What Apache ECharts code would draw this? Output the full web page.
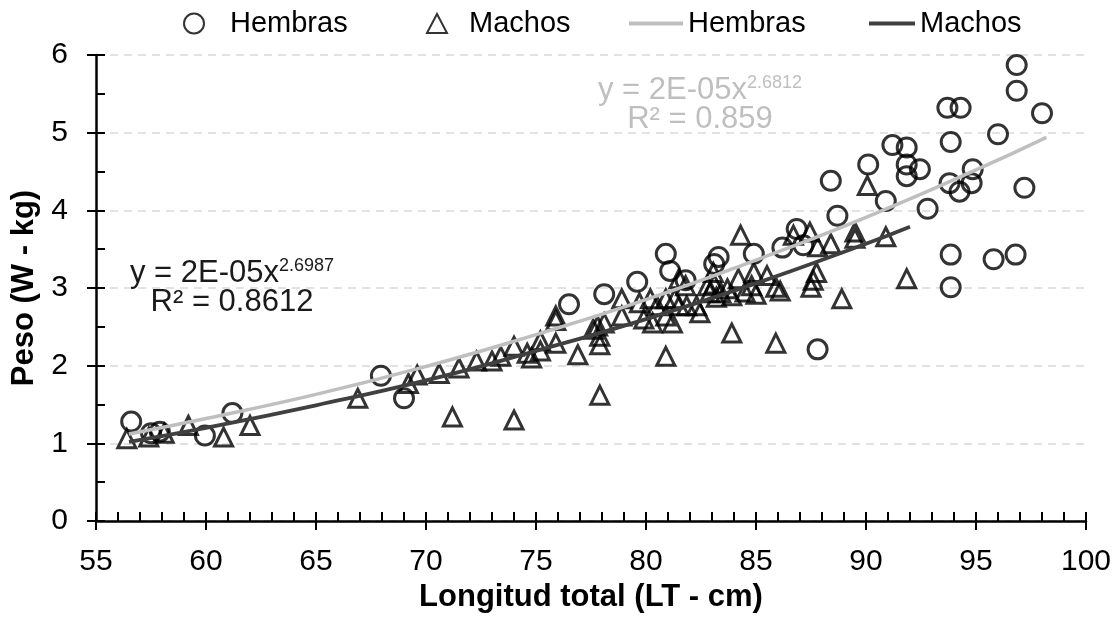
<!DOCTYPE html>
<html><head><meta charset="utf-8">
<script src="https://cdn.jsdelivr.net/npm/echarts@6/dist/echarts.min.js"></script>
<style>html,body{margin:0;padding:0;background:#fff}#c{width:1115px;height:622px}</style>
</head><body><div id="c"></div>
<script>
// Observed points: [longitud total (cm), peso (kg)]
const hembras = [
  [56.6,1.28],[57.5,1.13],[57.9,1.15],[59.95,1.10],[61.2,1.39],[67.95,1.87],[69.0,1.58],
  [76.5,2.79],[78.1,2.92],[79.6,3.08],[80.9,3.44],[81.1,3.22],[81.8,3.10],[83.1,3.31],
  [83.3,3.40],[84.9,3.44],[86.2,3.52],[86.85,3.76],[87.15,3.55],[87.8,2.21],[88.7,3.93],
  [88.4,4.38],[90.1,4.59],[90.9,4.12],[91.2,4.84],[91.85,4.81],[91.85,4.59],[92.45,4.53],
  [91.85,4.44],[92.8,4.02],[93.7,5.32],[94.3,5.32],[93.85,4.88],[93.8,4.35],[94.25,4.24],
  [94.85,4.53],[94.8,4.35],[96.0,4.98],[96.85,5.87],[96.85,5.54],[98.0,5.25],[97.2,4.29],
  [93.85,3.43],[95.8,3.37],[96.8,3.43],[93.85,3.01]
];
const machos = [
  [56.4,1.06],[57.4,1.08],[58.1,1.13],[59.2,1.23],[60.8,1.08],[62.0,1.23],[66.9,1.58],
  [69.2,1.77],[69.6,1.88],[70.6,1.90],[71.5,1.97],[71.2,1.34],[72.3,2.06],[73.0,2.06],
  [73.4,2.12],[74.0,2.25],[74.0,1.30],[74.6,2.16],[74.8,2.10],[75.2,2.32],[75.2,2.19],
  [75.9,2.64],[75.9,2.58],[75.9,2.29],[76.9,2.14],[77.9,1.62],[77.9,2.27],[77.8,2.51],
  [78.1,2.55],[77.6,2.47],[77.9,2.38],[78.9,2.64],[78.9,2.86],[79.7,2.81],[79.9,2.60],
  [80.2,2.86],[80.3,2.55],[80.5,2.77],[80.9,2.64],[80.9,2.86],[80.9,2.12],[81.2,2.55],
  [81.3,2.86],[81.5,2.77],[81.5,3.12],[81.8,3.03],[81.85,2.77],[82.3,2.77],[82.45,2.68],
  [82.8,3.03],[82.9,2.94],[83.06,3.20],[83.1,3.05],[83.2,2.88],[83.4,2.94],[83.7,2.99],
  [83.9,2.90],[83.9,2.42],[84.2,3.12],[84.3,3.68],[84.5,2.95],[84.8,3.03],[84.9,3.20],
  [85.0,2.92],[85.5,3.16],[85.9,3.01],[85.9,2.29],[86.1,2.96],[86.7,3.68],[87.45,3.72],
  [87.5,3.01],[87.6,3.10],[87.75,3.20],[87.8,3.53],[88.4,3.57],[88.9,2.86],[89.5,3.72],
  [89.5,3.64],[90.06,4.32],[90.9,3.66],[91.85,3.12]
];
// Trend lines
const trendHembrasX = [56.5, 60, 65, 70, 75, 80, 85, 90, 95, 98.2];
const trendHembrasY = [1.12, 1.32, 1.63, 1.99, 2.40, 2.85, 3.36, 3.91, 4.52, 4.94];
const trendMachosX = [56.5, 60, 65, 70, 75, 80, 85, 90, 92];
const trendMachosY = [1.02, 1.20, 1.49, 1.81, 2.19, 2.60, 3.06, 3.57, 3.79];
const eqHembras = ['y = 2E-05x', '2.6812', 'R² = 0.859'];
const eqMachos = ['y = 2E-05x', '2.6987', 'R² = 0.8612'];

const FONT = '"Liberation Sans", Arial, Helvetica, sans-serif';
const zip = (xs, ys) => xs.map((x, i) => [x, ys[i]]);

const chart = echarts.init(document.getElementById('c'));
const baseAxis = {
  axisLabel: {show: false}, splitLine: {show: false}, axisLine: {show: false}
};
function legendItem(data, left, itemWidth, itemHeight, padLeft) {
  return {
    data: data, left: left, top: 9, itemWidth: itemWidth, itemHeight: itemHeight,
    selectedMode: false, padding: 0,
    textStyle: {fontSize: 29, color: '#000', fontFamily: FONT, padding: [0, 0, 0, padLeft]}
  };
}
function eqText(lines, x, y, color) {
  return [
    {type: 'text', x: x, y: y, z: 100, style: {
      text: '{a|' + lines[0] + '}{b|' + lines[1] + '}', align: 'center', verticalAlign: 'middle',
      fill: color,
      rich: {
        a: {fontSize: 31, fontFamily: FONT, fill: color, lineHeight: 36, verticalAlign: 'bottom'},
        b: {fontSize: 18, fontFamily: FONT, fill: color, lineHeight: 36, verticalAlign: 'top', padding: [4, 0, 0, 0]}
      }
    }},
    {type: 'text', x: x, y: y + 31, z: 100, style: {
      text: lines[2], align: 'center', verticalAlign: 'middle', fill: color,
      font: '31px ' + FONT
    }}
  ];
}
chart.setOption({
  animation: false,
  grid: {left: 96, right: 29, top: 55, bottom: 101, containLabel: false, outerBoundsMode: 'none'},
  legend: [
    legendItem(['Hembras'], 183, 20, 20, 21),
    legendItem(['Machos'], 426, 20, 19, 17),
    legendItem([{name: 'Hembras\u200b', icon: 'rect'}], 629, 54, 4, 0),
    legendItem([{name: 'Machos\u200b', icon: 'rect'}], 869, 46, 4, 0)
  ],
  xAxis: [
    {type: 'value', min: 55, max: 100, interval: 5, position: 'bottom',
      name: 'Longitud total (LT - cm)', nameLocation: 'middle', nameGap: 58,
      nameTextStyle: {fontSize: 31, fontWeight: 'bold', color: '#000', fontFamily: FONT},
      axisLine: {show: true, onZero: false, lineStyle: {color: '#000', width: 2.5}},
      axisTick: {show: true, inside: false, length: 9, lineStyle: {color: '#000', width: 2}},
      axisLabel: {fontSize: 30, color: '#000', margin: 26, fontFamily: FONT},
      splitLine: {show: false}},
    Object.assign({type: 'value', min: 55, max: 100, interval: 5, position: 'bottom',
      axisTick: {show: true, inside: true, length: 9, lineStyle: {color: '#000', width: 2}},
      minorTick: {show: true, splitNumber: 5, length: 9, lineStyle: {color: '#000', width: 2}}}, baseAxis)
  ],
  yAxis: [
    {type: 'value', min: 0, max: 6, interval: 1, position: 'left',
      name: 'Peso (W - kg)', nameLocation: 'middle', nameGap: 46,
      nameTextStyle: {fontSize: 31, fontWeight: 'bold', color: '#000', fontFamily: FONT},
      axisLine: {show: true, onZero: false, lineStyle: {color: '#000', width: 2.5}},
      axisTick: {show: true, inside: false, length: 9, lineStyle: {color: '#000', width: 2}},
      axisLabel: {fontSize: 30, color: '#000', margin: 28, fontFamily: FONT},
      splitLine: {show: true, lineStyle: {color: '#d9d9d9', width: 1.5, type: [8, 6]}}},
    Object.assign({type: 'value', min: 0, max: 6, interval: 1, position: 'left',
      axisTick: {show: true, inside: true, length: 9, lineStyle: {color: '#000', width: 2}},
      minorTick: {show: true, splitNumber: 2, length: 9, lineStyle: {color: '#000', width: 2}}}, baseAxis)
  ],
  series: [
    {name: 'Hembras', type: 'scatter', data: hembras, symbol: 'circle', symbolSize: 19,
      itemStyle: {color: 'rgba(0,0,0,0)', borderColor: '#000', borderWidth: 3},
      emphasis: {disabled: true}, z: 2},
    {name: 'Machos', type: 'scatter', data: machos, symbol: 'triangle', symbolSize: 18,
      itemStyle: {color: 'rgba(0,0,0,0)', borderColor: '#000', borderWidth: 3},
      emphasis: {disabled: true}, z: 2},
    {name: 'Hembras\u200b', type: 'line', data: zip(trendHembrasX, trendHembrasY), smooth: true,
      symbol: 'none', showSymbol: false, lineStyle: {color: '#bfbfbf', width: 3.5},
      itemStyle: {color: '#bfbfbf'}, emphasis: {disabled: true}, z: 5},
    {name: 'Machos\u200b', type: 'line', data: zip(trendMachosX, trendMachosY), smooth: true,
      symbol: 'none', showSymbol: false, lineStyle: {color: '#404040', width: 3.8},
      itemStyle: {color: '#404040'}, emphasis: {disabled: true}, z: 5}
  ],
  graphic: eqText(eqHembras, 700, 88, '#bfbfbf').concat(eqText(eqMachos, 232, 271, '#1a1a1a'))
});
</script></body></html>
